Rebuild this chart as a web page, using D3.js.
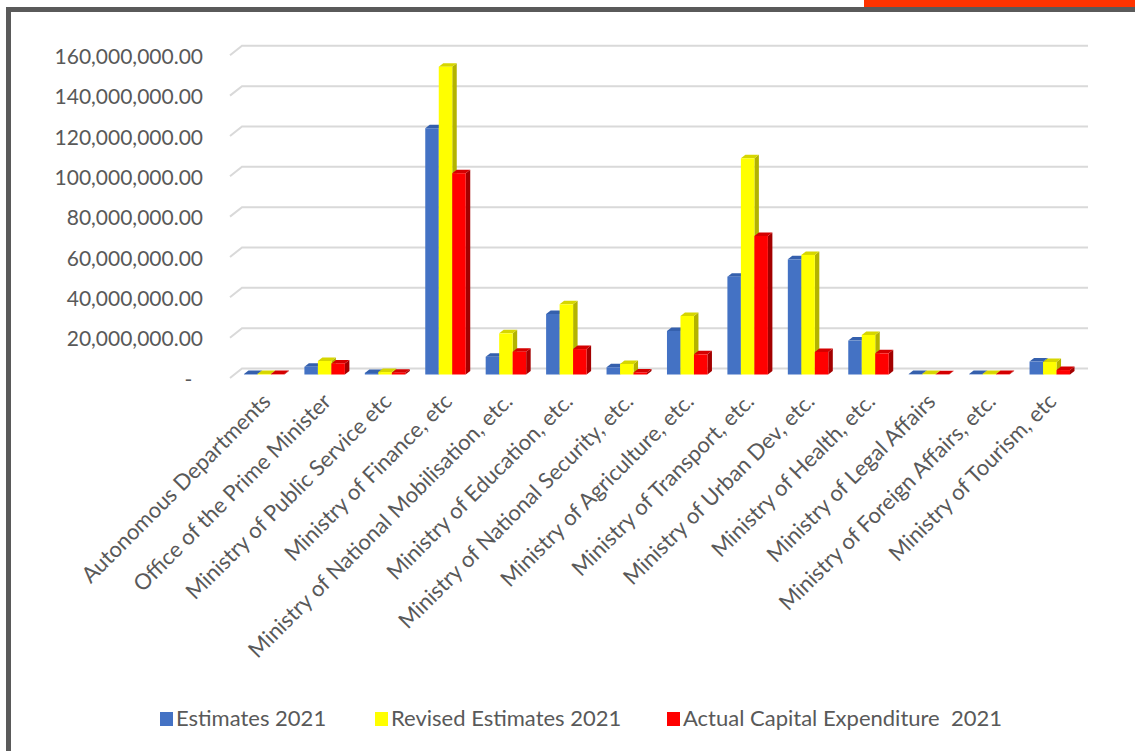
<!DOCTYPE html>
<html>
<head>
<meta charset="utf-8">
<script src="https://cdn.jsdelivr.net/npm/d3@7/dist/d3.min.js"></script>
<style>
  html, body { margin: 0; padding: 0; background: #ffffff; }
  svg { display: block; }
  text { font-family: Lato, "Open Sans", sans-serif; fill: #595959; }
</style>
</head>
<body>
<svg id="chart" width="1135" height="751"></svg>
<script>
// Capital expenditure by ministry, 2021
const categories = [
  "Autonomous Departments",
  "Office of the Prime Minister",
  "Ministry of Public Service etc",
  "Ministry of Finance, etc",
  "Ministry of National Mobilisation, etc.",
  "Ministry of Education, etc.",
  "Ministry of National Security, etc.",
  "Ministry of Agriculture, etc.",
  "Ministry of Transport, etc.",
  "Ministry of Urban Dev, etc.",
  "Ministry of Health, etc.",
  "Ministry of Legal Affairs",
  "Ministry of Foreign Affairs, etc.",
  "Ministry of Tourism, etc"
];
const seriesNames = ["Estimates 2021", "Revised Estimates 2021", "Actual Capital Expenditure  2021"];
const estimates = [250000, 3800000, 800000, 122100000, 8800000, 30000000, 3600000, 21600000, 48500000, 57100000, 16800000, 200000, 200000, 6400000];
const revised   = [300000, 6700000, 1200000, 152600000, 20400000, 34800000, 5200000, 29000000, 107200000, 59300000, 19600000, 200000, 300000, 6200000];
const actual    = [200000, 5500000, 900000, 99800000, 11300000, 12600000, 1000000, 10000000, 68700000, 11200000, 10500000, 100000, 200000, 2200000];
const yTicks = [0, 20000000, 40000000, 60000000, 80000000, 100000000, 120000000, 140000000, 160000000];

const seriesValues = [estimates, revised, actual];
// front, top, side shades for each series
const shades = [
  { front: "#4472c4", top: "#3560ad", side: "#2c4f8f" },
  { front: "#ffff00", top: "#d6d600", side: "#b3b300" },
  { front: "#ff0000", top: "#d40000", side: "#a30000" }
];

const svg = d3.select("#chart");

// frame
svg.append("rect").attr("x", 864).attr("y", 0).attr("width", 271).attr("height", 7).attr("fill", "#ff3300");
svg.append("path")
  .attr("d", "M8.5,751 L8.5,9.5 L1135,9.5")
  .attr("fill", "none").attr("stroke", "#5a5a5a").attr("stroke-width", 5);

// scales (front plane of the columns)
const x = d3.scaleBand().domain(categories).range([234, 1080]).paddingInner(0.33).paddingOuter(0.165);
const xs = d3.scaleBand().domain(d3.range(3)).range([0, x.bandwidth()]);
const y = d3.scaleLinear().domain([0, 160000000]).range([374.5, 51.8]);

// depth offsets
const wallDx = 8, wallDy = -6;     // back wall relative to column front
const floorDx = -12, floorDy = 9.5; // wall diagonal
const dx = 4.5, dy = -3.5;          // column depth

// gridlines on the back wall
const grid = svg.append("g");
yTicks.forEach(t => {
  const gy = y(t) + wallDy;
  const gx = x.range()[0] + wallDx;
  grid.append("path")
    .attr("d", `M${gx + floorDx},${gy + floorDy} L${gx},${gy} L1088,${gy}`)
    .attr("fill", "none").attr("stroke", "#d9d9d9").attr("stroke-width", 2);
});

// value axis
const fmt = d3.format(",.2f");
const yAxis = d3.axisLeft(y).tickValues(yTicks).tickSize(0).tickPadding(0)
  .tickFormat(d => d === 0 ? "-  " : fmt(d));
const ya = svg.append("g").attr("transform", "translate(203,5)").call(yAxis);
ya.select(".domain").remove();
ya.selectAll("text")
  .style("font-family", "Lato, 'Open Sans', sans-serif")
  .style("font-size", "21px")
  .style("fill", "#595959")
  .style("white-space", "pre");

// columns
const bars = svg.append("g");
categories.forEach((c, i) => {
  seriesValues.forEach((vals, s) => {
    const x0 = x(c) + xs(s);
    const w = xs.bandwidth();
    const yt = y(vals[i]);
    const yb = y(0);
    const sh = shades[s];
    bars.append("polygon")
      .attr("points", [[x0 + w, yt], [x0 + w + dx, yt + dy], [x0 + w + dx, yb + dy], [x0 + w, yb]].join(" "))
      .attr("fill", sh.side);
    bars.append("polygon")
      .attr("points", [[x0, yt], [x0 + dx, yt + dy], [x0 + w + dx, yt + dy], [x0 + w, yt]].join(" "))
      .attr("fill", sh.top);
    bars.append("rect")
      .attr("x", x0).attr("y", yt).attr("width", w).attr("height", yb - yt)
      .attr("fill", sh.front);
  });
});

// category labels
const labels = svg.append("g");
categories.forEach(c => {
  const cx = x(c) + x.bandwidth() / 2 - 3;
  const cy = 392;
  labels.append("text")
    .attr("transform", `translate(${cx},${cy}) rotate(-45)`)
    .attr("text-anchor", "end")
    .attr("dy", "0.7em")
    .style("font-size", "22px")
    .text(c);
});

// legend
const legendX = [160, 375, 667];
const legend = svg.append("g");
seriesNames.forEach((n, s) => {
  legend.append("rect")
    .attr("x", legendX[s]).attr("y", 712).attr("width", 13).attr("height", 14)
    .attr("fill", shades[s].front);
  legend.append("text")
    .attr("x", legendX[s] + 16).attr("y", 726)
    .style("font-size", "22px")
    .style("white-space", "pre")
    .text(n);
});
</script>
</body>
</html>
